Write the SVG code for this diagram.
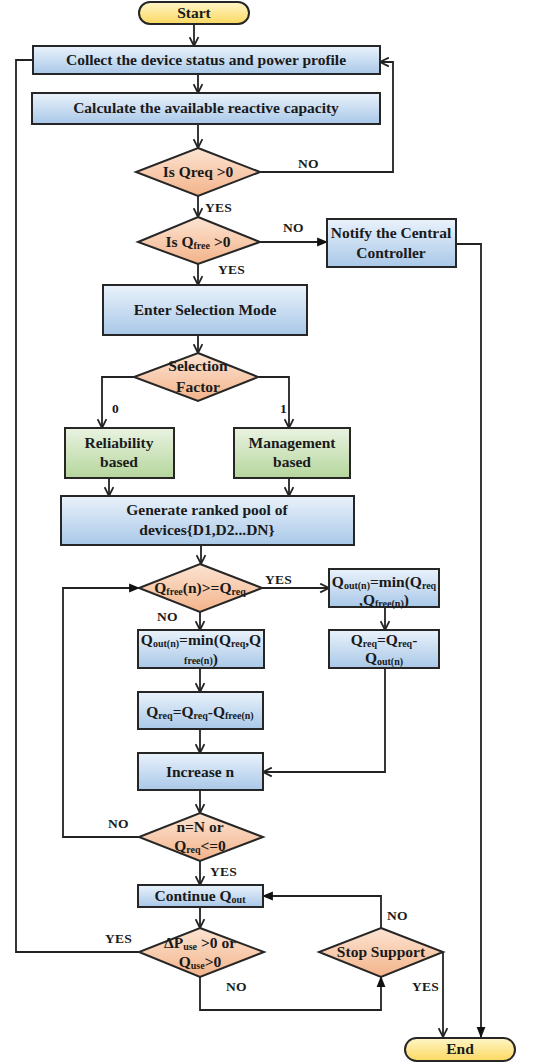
<svg xmlns="http://www.w3.org/2000/svg" width="551" height="1063" viewBox="0 0 551 1063">
<style>
text{font-family:'Liberation Serif','Times New Roman',serif;font-weight:bold;fill:#1a1a1a;text-anchor:middle;font-size:15.5px}
.lbl{font-size:13.5px;text-anchor:start;letter-spacing:0.3px}
.sub{font-size:10px}
.box{fill:url(#gb);stroke:#262626;stroke-width:2}
.grn{fill:url(#gg);stroke:#262626;stroke-width:2}
.dia{fill:url(#go);stroke:#262626;stroke-width:2}
.term{fill:url(#gy);stroke:#262626;stroke-width:2}
.c{fill:none;stroke:#222;stroke-width:1.8}
.a{marker-end:url(#arr)}
.f{marker-end:url(#arrf)}
</style>
<defs>
<linearGradient id="gb" x1="0" y1="0" x2="0" y2="1"><stop offset="0" stop-color="#eaf2fb"/><stop offset="1" stop-color="#a9c8e8"/></linearGradient>
<linearGradient id="gg" x1="0" y1="0" x2="0" y2="1"><stop offset="0" stop-color="#eaf3e2"/><stop offset="1" stop-color="#b5d69c"/></linearGradient>
<linearGradient id="go" x1="0" y1="0" x2="0" y2="1"><stop offset="0" stop-color="#fce4d3"/><stop offset="1" stop-color="#f3b38a"/></linearGradient>
<linearGradient id="gy" x1="0" y1="0" x2="0" y2="1"><stop offset="0" stop-color="#fff6c8"/><stop offset="1" stop-color="#fbd860"/></linearGradient>
<marker id="arr" markerUnits="userSpaceOnUse" viewBox="0 0 10 10" refX="9" refY="5" markerWidth="11" markerHeight="11" orient="auto"><path d="M1,1 L9,5 L1,9" fill="none" stroke="#222" stroke-width="1.6"/></marker>
<marker id="arrf" markerUnits="userSpaceOnUse" viewBox="0 0 10 10" refX="9" refY="5" markerWidth="11" markerHeight="11" orient="auto"><path d="M0,1 L10,5 L0,9 z" fill="#111"/></marker>
</defs>

<g id="connectors">
<path class="c a" d="M194,24 V46"/>
<path class="c a" d="M198,74 V93"/>
<path class="c a" d="M198,124 V148"/>
<path class="c a" d="M260,172 H393 V62 H380"/>
<path class="c a" d="M198,196 V217"/>
<path class="c f" d="M260,242 H327"/>
<path class="c f" d="M456,244 H481 V1037"/>
<path class="c a" d="M198,264 V285"/>
<path class="c a" d="M198,335 V353"/>
<path class="c a" d="M134,377 H102 V428"/>
<path class="c a" d="M258,377 H289 V428"/>
<path class="c a" d="M109,478 V496"/>
<path class="c a" d="M289,478 V496"/>
<path class="c a" d="M201,545 V564"/>
<path class="c a" d="M262,588 H329"/>
<path class="c a" d="M200,612 V630"/>
<path class="c a" d="M385,607 V630"/>
<path class="c a" d="M200,668 V692"/>
<path class="c a" d="M385,668 V772 H263"/>
<path class="c a" d="M200,729 V753"/>
<path class="c a" d="M200,790 V813"/>
<path class="c f" d="M139,837 H63 V588 H139"/>
<path class="c a" d="M200,861 V885"/>
<path class="c a" d="M200,907 V928"/>
<path class="c" d="M139,952 H16 V60 H33"/>
<path class="c f" d="M200,977 V1010 H381 V977"/>
<path class="c f" d="M381,928 V896 H263"/>
<path class="c a" d="M443,952 V1037"/>
<text class="lbl" x="298" y="168">NO</text>
<text class="lbl" x="205" y="212">YES</text>
<text class="lbl" x="283" y="232">NO</text>
<text class="lbl" x="218" y="274">YES</text>
<text class="lbl" x="112" y="413">0</text>
<text class="lbl" x="280" y="413">1</text>
<text class="lbl" x="265" y="584">YES</text>
<text class="lbl" x="157" y="621">NO</text>
<text class="lbl" x="108" y="828">NO</text>
<text class="lbl" x="210" y="876">YES</text>
<text class="lbl" x="105" y="943">YES</text>
<text class="lbl" x="387" y="920">NO</text>
<text class="lbl" x="226" y="991">NO</text>
<text class="lbl" x="412" y="991">YES</text>
</g>

<g id="start"><rect class="term" x="139" y="2" width="110" height="22" rx="11"/><text x="194" y="18">Start</text></g>
<g id="collect"><rect class="box" x="33" y="46" width="347" height="28"/><text x="206" y="65">Collect the device status and power profile</text></g>
<g id="calc"><rect class="box" x="32" y="93" width="348" height="31"/><text x="206" y="113">Calculate the available reactive capacity</text></g>
<g id="d-qreq"><path class="dia" d="M198,148 L260,172 L198,196 L136,172 Z"/><text x="198" y="177">Is Qreq &gt;0</text></g>
<g id="d-qfree"><path class="dia" d="M198,217 L260,242 L198,264 L138,242 Z"/><text x="198" y="247">Is Q<tspan class="sub" dy="2">free</tspan><tspan dy="-2"> &gt;0</tspan></text></g>
<g id="notify"><rect class="box" x="327" y="219" width="129" height="48"/><text x="391" y="238">Notify the Central</text><text x="391" y="258">Controller</text></g>
<g id="selmode"><rect class="box" x="103" y="285" width="204" height="50"/><text x="205" y="315">Enter Selection Mode</text></g>
<g id="d-selfactor"><path class="dia" d="M198,353 L258,377 L198,401 L134,377 Z"/><text x="198" y="371">Selection</text><text x="198" y="392">Factor</text></g>
<g id="reliab"><rect class="grn" x="65" y="428" width="109" height="50"/><text x="119" y="448">Reliability</text><text x="119" y="467">based</text></g>
<g id="manage"><rect class="grn" x="234" y="428" width="116" height="50"/><text x="292" y="448">Management</text><text x="292" y="467">based</text></g>
<g id="generate"><rect class="box" x="61" y="496" width="293" height="49"/><text x="207" y="515">Generate ranked pool of</text><text x="207" y="535">devices{D1,D2...DN}</text></g>
<g id="d-qfreen"><path class="dia" d="M200,564 L262,588 L200,612 L139,588 Z"/><text x="200" y="593">Q<tspan class="sub" dy="2">free</tspan><tspan dy="-2">(n)&gt;=Q</tspan><tspan class="sub" dy="2">req</tspan></text></g>
<g id="qout-r"><rect class="box" x="329" y="569" width="110" height="38"/><text x="384" y="587">Q<tspan class="sub" dy="2">out(n)</tspan><tspan dy="-2">=min(Q</tspan><tspan class="sub" dy="2">req</tspan></text><text x="384" y="605">,Q<tspan class="sub" dy="2">free(n)</tspan><tspan dy="-2">)</tspan></text></g>
<g id="qreq-r"><rect class="box" x="329" y="630" width="110" height="38"/><text x="384" y="645">Q<tspan class="sub" dy="2">req</tspan><tspan dy="-2">=Q</tspan><tspan class="sub" dy="2">req</tspan><tspan dy="-2">-</tspan></text><text x="384" y="663">Q<tspan class="sub" dy="2">out(n)</tspan></text></g>
<g id="qout-l"><rect class="box" x="138" y="630" width="126" height="38"/><text x="201" y="645">Q<tspan class="sub" dy="2">out(n)</tspan><tspan dy="-2">=min(Q</tspan><tspan class="sub" dy="2">req</tspan><tspan dy="-2">,Q</tspan></text><text x="201" y="664"><tspan class="sub">free(n)</tspan>)</text></g>
<g id="qreq-l"><rect class="box" x="138" y="692" width="125" height="37"/><text x="200" y="717">Q<tspan class="sub" dy="2">req</tspan><tspan dy="-2">=Q</tspan><tspan class="sub" dy="2">req</tspan><tspan dy="-2">-Q</tspan><tspan class="sub" dy="2">free(n)</tspan></text></g>
<g id="increase"><rect class="box" x="138" y="753" width="125" height="37"/><text x="200" y="777">Increase n</text></g>
<g id="d-nN"><path class="dia" d="M200,813 L263,837 L200,861 L139,837 Z"/><text x="200" y="832">n=N or</text><text x="200" y="851">Q<tspan class="sub" dy="2">req</tspan><tspan dy="-2">&lt;=0</tspan></text></g>
<g id="continue"><rect class="box" x="138" y="885" width="125" height="22"/><text x="200" y="901">Continue Q<tspan class="sub" dy="2">out</tspan></text></g>
<g id="d-puse"><path class="dia" d="M200,928 L264,952 L200,977 L139,952 Z"/><text x="200" y="948">ΔP<tspan class="sub" dy="2">use</tspan><tspan dy="-2"> &gt;0 or</tspan></text><text x="200" y="967">Q<tspan class="sub" dy="2">use</tspan><tspan dy="-2">&gt;0</tspan></text></g>
<g id="d-stop"><path class="dia" d="M381,928 L443,952 L381,977 L319,952 Z"/><text x="381" y="957">Stop Support</text></g>
<g id="end"><rect class="term" x="405" y="1038" width="110" height="23" rx="11.5"/><text x="460" y="1054">End</text></g>
</svg>
